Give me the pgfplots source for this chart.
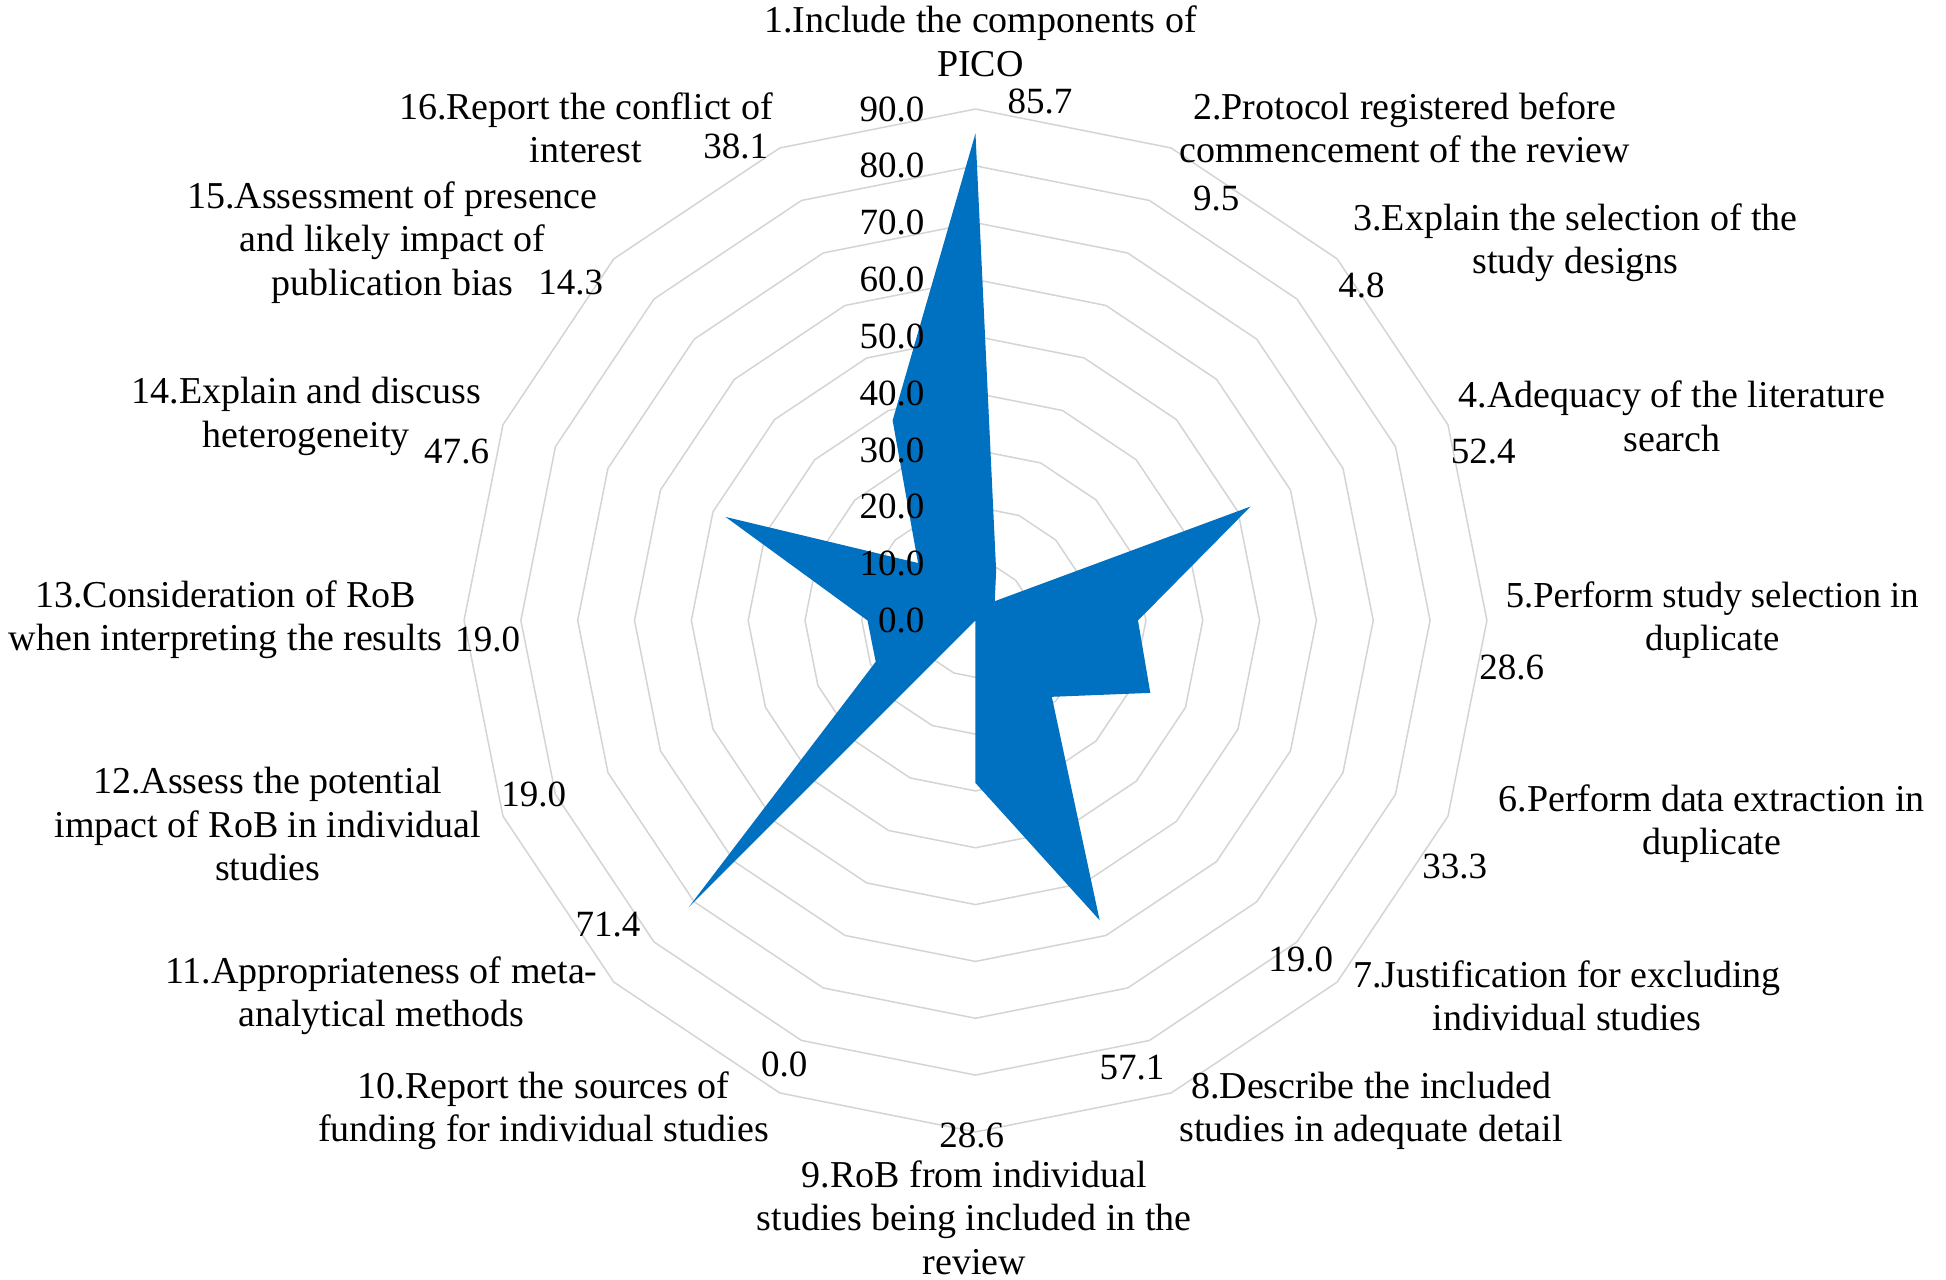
\documentclass[border=0pt]{standalone}
\usepackage{fontspec}
\setmainfont{Liberation Serif}
\usepackage{pgfplots}
\pgfplotsset{compat=1.18}
\usepgfplotslibrary{polar}
\definecolor{gridc}{RGB}{212,212,212}
\definecolor{fillc}{RGB}{0,112,192}
\tikzset{
  lab/.style={font=\fontsize{19}{21.7}\selectfont, align=center, inner sep=0pt, text=black},
  num/.style={font=\fontsize{18.5}{21}\selectfont, inner sep=0pt, text=black},
}
\begin{document}
\begin{tikzpicture}
\useasboundingbox (-487.7pt,-329.7pt) rectangle (485.2pt,310.2pt);
\begin{polaraxis}[
  at={(0,0)}, anchor=center,
  width=511.4pt, height=511.4pt, scale only axis,
  xmin=0, xmax=360, ymin=0, ymax=90,
  enlargelimits=false,
  hide axis, clip=false,
]
% polygon grid
\pgfplotsinvokeforeach{10,20,30,40,50,60,70,80,90}{
  \addplot[gridc, line width=0.75pt] coordinates {(90,#1) (67.5,#1) (45,#1) (22.5,#1) (0,#1) (-22.5,#1) (-45,#1) (-67.5,#1) (-90,#1) (-112.5,#1) (-135,#1) (-157.5,#1) (180,#1) (157.5,#1) (135,#1) (112.5,#1) (90,#1)};
}
% data
\addplot[draw=none, fill=fillc] coordinates {
  (90,85.7) (67.5,9.5) (45,4.8) (22.5,52.4) (0,28.6) (-22.5,33.3) (-45,19.0) (-67.5,57.1)
  (-90,28.6) (-112.5,0.0) (-135,71.4) (-157.5,19.0) (-180,19.0) (-202.5,47.6) (-225,14.3) (-247.5,38.1) (-270,85.7)};
% radial tick labels
\node[num, anchor=east] at ([xshift=-25.4pt]axis cs:90,0) {0.0};
\node[num, anchor=east] at ([xshift=-25.4pt]axis cs:90,10) {10.0};
\node[num, anchor=east] at ([xshift=-25.4pt]axis cs:90,20) {20.0};
\node[num, anchor=east] at ([xshift=-25.4pt]axis cs:90,30) {30.0};
\node[num, anchor=east] at ([xshift=-25.4pt]axis cs:90,40) {40.0};
\node[num, anchor=east] at ([xshift=-25.4pt]axis cs:90,50) {50.0};
\node[num, anchor=east] at ([xshift=-25.4pt]axis cs:90,60) {60.0};
\node[num, anchor=east] at ([xshift=-25.4pt]axis cs:90,70) {70.0};
\node[num, anchor=east] at ([xshift=-25.4pt]axis cs:90,80) {80.0};
\node[num, anchor=east] at ([xshift=-25.4pt]axis cs:90,90) {90.0};
% data labels
\node[num] at ([shift={(32.3pt,259.4pt)}]axis cs:0,0) {85.7};
\node[num] at ([shift={(120.4pt,211.0pt)}]axis cs:0,0) {9.5};
\node[num] at ([shift={(193.0pt,167.6pt)}]axis cs:0,0) {4.8};
\node[num] at ([shift={(253.8pt,84.4pt)}]axis cs:0,0) {52.4};
\node[num] at ([shift={(268.1pt,-23.6pt)}]axis cs:0,0) {28.6};
\node[num] at ([shift={(239.6pt,-122.9pt)}]axis cs:0,0) {33.3};
\node[num] at ([shift={(162.6pt,-169.4pt)}]axis cs:0,0) {19.0};
\node[num] at ([shift={(78.2pt,-223.4pt)}]axis cs:0,0) {57.1};
\node[num] at ([shift={(-1.9pt,-257.5pt)}]axis cs:0,0) {28.6};
\node[num] at ([shift={(-95.6pt,-222.2pt)}]axis cs:0,0) {0.0};
\node[num] at ([shift={(-183.7pt,-152.0pt)}]axis cs:0,0) {71.4};
\node[num] at ([shift={(-220.9pt,-86.9pt)}]axis cs:0,0) {19.0};
\node[num] at ([shift={(-243.9pt,-9.3pt)}]axis cs:0,0) {19.0};
\node[num] at ([shift={(-259.4pt,84.4pt)}]axis cs:0,0) {47.6};
\node[num] at ([shift={(-202.3pt,168.8pt)}]axis cs:0,0) {14.3};
\node[num] at ([shift={(-119.8pt,237.1pt)}]axis cs:0,0) {38.1};
% category labels
\node[lab] at ([shift={(2.5pt,289.5pt)}]axis cs:0,0) {1.Include the components of\\PICO};
\node[lab, anchor=west] at ([shift={(101.8pt,246.4pt)}]axis cs:0,0) {2.Protocol registered before\\commencement of the review};
\node[lab, anchor=west] at ([shift={(188.7pt,189.0pt)}]axis cs:0,0) {3.Explain the selection of the\\study designs};
\node[lab, anchor=west] at ([shift={(241.4pt,102.1pt)}]axis cs:0,0) {4.Adequacy of the literature\\search};
\node[lab, anchor=west, font=\fontsize{18.3}{21.7}\selectfont] at ([shift={(265.0pt,0.3pt)}]axis cs:0,0) {5.Perform study selection in\\duplicate};
\node[lab, anchor=west] at ([shift={(261.3pt,-101.5pt)}]axis cs:0,0) {6.Perform data extraction in\\duplicate};
\node[lab, anchor=west] at ([shift={(188.7pt,-187.7pt)}]axis cs:0,0) {7.Justification for excluding\\individual studies};
\node[lab, anchor=west] at ([shift={(101.8pt,-245.1pt)}]axis cs:0,0) {8.Describe the included\\studies in adequate detail};
\node[lab] at ([shift={(-0.6pt,-298.5pt)}]axis cs:0,0) {9.RoB from individual\\studies being included in the\\review};
\node[lab, anchor=east] at ([shift={(-103.0pt,-245.1pt)}]axis cs:0,0) {10.Report the sources of\\funding for individual studies};
\node[lab, anchor=east] at ([shift={(-188.7pt,-187.7pt)}]axis cs:0,0) {11.Appropriateness of meta-\\analytical methods};
\node[lab, anchor=east] at ([shift={(-247.0pt,-101.8pt)}]axis cs:0,0) {12.Assess the potential\\impact of RoB in individual\\studies};
\node[lab, anchor=east] at ([shift={(-266.2pt,0.3pt)}]axis cs:0,0) {13.Consideration of RoB\\when interpreting the results};
\node[lab, anchor=east] at ([shift={(-247.0pt,102.1pt)}]axis cs:0,0) {14.Explain and discuss\\heterogeneity};
\node[lab, anchor=east] at ([shift={(-188.7pt,189.0pt)}]axis cs:0,0) {15.Assessment of presence\\and likely impact of\\publication bias};
\node[lab, anchor=east] at ([shift={(-101.2pt,246.4pt)}]axis cs:0,0) {16.Report the conflict of\\interest};
\end{polaraxis}
\end{tikzpicture}
\end{document}
